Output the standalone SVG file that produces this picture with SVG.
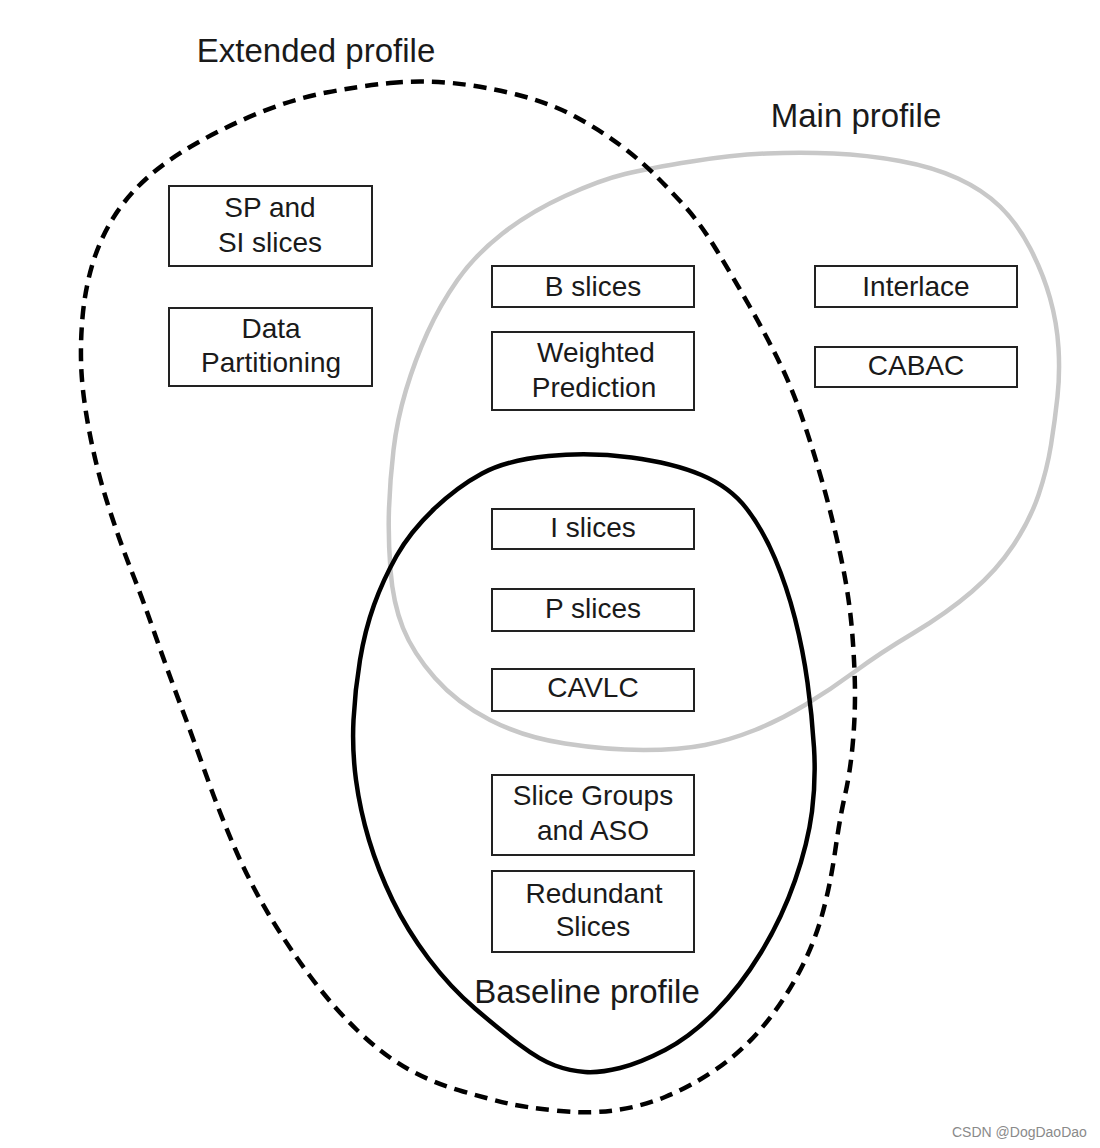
<svg xmlns="http://www.w3.org/2000/svg" width="1100" height="1148" viewBox="0 0 1100 1148">
<style>
.bg{fill:#ffffff}
.box{fill:#ffffff;stroke:#222222;stroke-width:2}
.t{font-family:"Liberation Sans",Arial,sans-serif;font-size:28px;fill:#1a1a1a;text-anchor:middle}
.lbl{font-family:"Liberation Sans",Arial,sans-serif;font-size:33px;fill:#1a1a1a;text-anchor:middle}
.ext{fill:none;stroke:#000000;stroke-width:4.5;stroke-dasharray:13 8}
.main{fill:none;stroke:#c8c8c8;stroke-width:4.5}
.base{fill:none;stroke:#000000;stroke-width:4.5}
.wm{font-family:"Liberation Sans",Arial,sans-serif;font-size:14px;fill:#8a8a8a}
</style>
<rect class="bg" x="0" y="0" width="1100" height="1148"/>
<g id="profiles">
<g id="main-profile">
<path class="main" d="M 766.5,153.5 Q 800,152 833.5,153.5 Q 867,155 900,161 Q 933,167 958,178.5 Q 983,190 1000,206.5 Q 1017,223 1030,248 Q 1043,273 1050,298 Q 1057,323 1058.5,348 Q 1060,373 1057.5,396.5 Q 1055,420 1051,445 Q 1047,470 1038.5,495 Q 1030,520 1013.5,545 Q 997,570 972,591.5 Q 947,613 913.5,633 Q 880,653 855,671.5 Q 830,690 805,705 Q 780,720 755,730 Q 730,740 705,745 Q 680,750 643.5,750 Q 607,750 565,743.5 Q 523,737 490,720 Q 457,703 435,678 Q 413,653 403,628 Q 393,603 390.5,570 Q 388,537 389,508.5 Q 390,480 393.5,450 Q 397,420 406,390 Q 415,360 427.5,332.5 Q 440,305 457.5,280 Q 475,255 502.5,233.5 Q 530,212 565,196 Q 600,180 625,174 Q 650,168 691.5,161.5 Q 733,155 766.5,153.5 Z"/>
<text class="lbl" x="856" y="127">Main profile</text>
</g>
<g id="baseline-profile">
<path class="base" d="M 548.5,456 Q 590,452 631.5,457.5 Q 673,463 701.5,475 Q 730,487 746.5,508.5 Q 763,530 775,558.5 Q 787,587 795,618.5 Q 803,650 807.5,682.5 Q 812,715 814,747.5 Q 816,780 812,811.5 Q 808,843 795,880.5 Q 782,918 761,952.5 Q 740,987 715,1012 Q 690,1037 665,1050 Q 640,1063 620,1068 Q 600,1073 585,1072 Q 570,1071 555,1065.5 Q 540,1060 520,1045 Q 500,1030 475,1008.5 Q 450,987 428.5,958.5 Q 407,930 392.5,900 Q 378,870 369,840 Q 360,810 356,780 Q 352,750 353.5,720 Q 355,690 360,660 Q 365,630 374,605 Q 383,580 396.5,556 Q 410,532 433.5,509.5 Q 457,487 482,473.5 Q 507,460 548.5,456 Z"/>
<text class="lbl" x="587" y="1003">Baseline profile</text>
</g>
<g id="extended-profile">
<path class="ext" d="M 390,83 Q 420,80 451.5,83 Q 483,86 516.5,94.5 Q 550,103 575,116.5 Q 600,130 620,145 Q 640,160 655,175 Q 670,190 685,206.5 Q 700,223 716.5,250 Q 733,277 750,307 Q 767,337 780,363.5 Q 793,390 805.5,427.5 Q 818,465 827.5,501 Q 837,537 843.5,570 Q 850,603 852.5,636.5 Q 855,670 855,695 Q 855,720 852.5,746.5 Q 850,773 845,795 Q 840,817 835,852 Q 830,887 821.5,917 Q 813,947 796.5,977 Q 780,1007 760,1030 Q 740,1053 715,1070 Q 690,1087 665,1097 Q 640,1107 613.5,1110.5 Q 587,1114 555,1110.5 Q 523,1107 508,1103.5 Q 493,1100 463,1091.5 Q 433,1083 408,1069 Q 383,1055 358,1031 Q 333,1007 310,976 Q 287,945 268.5,914 Q 250,883 235,848.5 Q 220,814 206.5,776 Q 193,738 180,703.5 Q 167,669 155,634.5 Q 143,600 131.5,571 Q 120,542 108.5,506.5 Q 97,471 90,435 Q 83,399 81.5,372.5 Q 80,346 82.5,317.5 Q 85,289 92.5,264 Q 100,239 113.5,217.5 Q 127,196 147,178 Q 167,160 197,143 Q 227,126 260,112.5 Q 293,99 326.5,92.5 Q 360,86 390,83 Z"/>
<text class="lbl" x="316" y="62">Extended profile</text>
</g>
</g>
<g id="sp-si-slices"><rect class="box" x="169" y="186" width="203" height="80"/><text class="t" x="270" y="217">SP and</text><text class="t" x="270" y="252">SI slices</text></g>
<g id="data-partitioning"><rect class="box" x="169" y="308" width="203" height="78"/><text class="t" x="271" y="338">Data</text><text class="t" x="271" y="372">Partitioning</text></g>
<g id="b-slices"><rect class="box" x="492" y="266" width="202" height="41"/><text class="t" x="593" y="296">B slices</text></g>
<g id="weighted-prediction"><rect class="box" x="492" y="332" width="202" height="78"/><text class="t" x="596" y="362">Weighted</text><text class="t" x="594" y="397">Prediction</text></g>
<g id="interlace"><rect class="box" x="815" y="266" width="202" height="41"/><text class="t" x="916" y="296">Interlace</text></g>
<g id="cabac"><rect class="box" x="815" y="347" width="202" height="40"/><text class="t" x="916" y="375">CABAC</text></g>
<g id="i-slices"><rect class="box" x="492" y="509" width="202" height="40"/><text class="t" x="593" y="537">I slices</text></g>
<g id="p-slices"><rect class="box" x="492" y="589" width="202" height="42"/><text class="t" x="593" y="618">P slices</text></g>
<g id="cavlc"><rect class="box" x="492" y="669" width="202" height="42"/><text class="t" x="593" y="697">CAVLC</text></g>
<g id="slice-groups-aso"><rect class="box" x="492" y="775" width="202" height="80"/><text class="t" x="593" y="805">Slice Groups</text><text class="t" x="593" y="840">and ASO</text></g>
<g id="redundant-slices"><rect class="box" x="492" y="871" width="202" height="81"/><text class="t" x="594" y="903">Redundant</text><text class="t" x="593" y="936">Slices</text></g>
<text class="wm" x="952" y="1137">CSDN @DogDaoDao</text>
</svg>
